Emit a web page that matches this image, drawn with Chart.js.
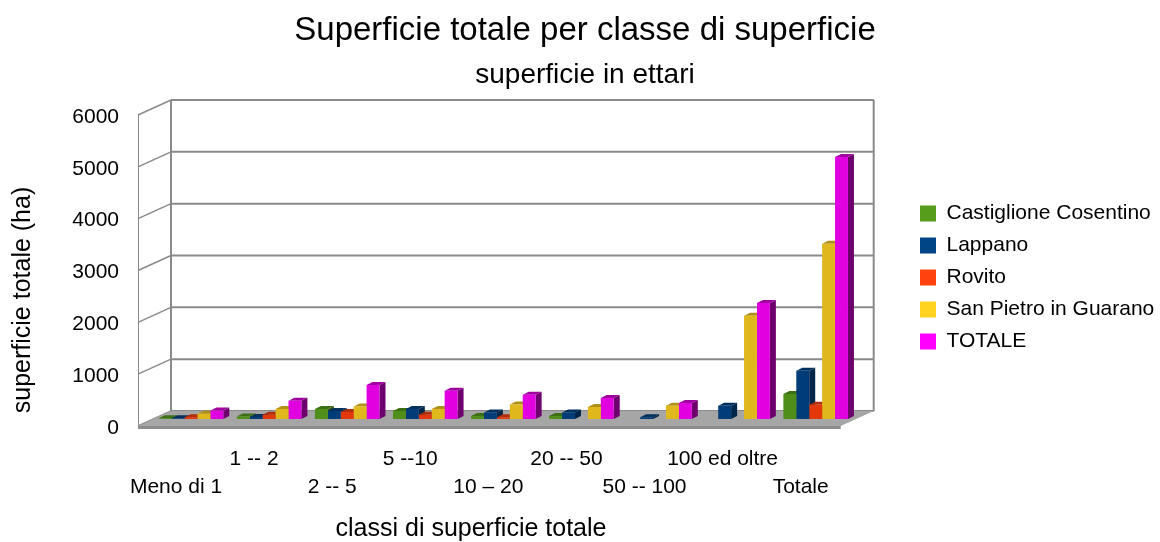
<!DOCTYPE html>
<html lang="it">
<head>
    <meta charset="UTF-8">
    <title>Superficie totale per classe di superficie</title>
    <script src="https://cdn.jsdelivr.net/npm/chart.js@4"></script>
    <style>
        html, body { margin: 0; padding: 0; background: #fff; }
        #wrap { width: 1160px; height: 542px; }
    </style>
</head>
<body>
    <div id="wrap"><canvas id="chart" width="1160" height="542"></canvas></div>
    <script>
        // etichette alternate su due righe
        const categories = [
            ['', 'Meno di 1'], ['1 -- 2', ''], ['', '2 -- 5'], ['5 --10', ''], ['', '10 – 20'],
            ['20 -- 50', ''], ['', '50 -- 100'], ['100 ed oltre', ''], ['', 'Totale']
        ];
        const castiglione = [15, 50, 193, 155, 60, 60, null, null, 483];
        const lappano = [15, 40, 155, 193, 127, 125, 35, 257, 932];
        const rovito = [35, 80, 135, 80, 35, null, null, null, 276];
        const sanPietro = [100, 193, 243, 193, 282, 232, 257, 1990, 3380];
        const totale = [165, 353, 656, 546, 469, 405, 309, 2240, 5054];
        const seriesNames = ['Castiglione Cosentino', 'Lappano', 'Rovito', 'San Pietro in Guarano', 'TOTALE'];
        const legendColors = ['#579d1c', '#004586', '#ff420e', '#ffd320', '#ff00ff'];
        const frontColors = ['#4f8f19', '#003d78', '#e2380b', '#e0b81e', '#e000e0'];
        const sideColors = ['#2f5610', '#002649', '#8a2808', '#877012', '#6e006e'];
        const topColors = ['#3d7014', '#00305e', '#b02e09', '#b09018', '#a000a0'];

        // offset del piano delle barre rispetto a parete di fondo e bordo anteriore
        const BACK = { x: 19, y: -8 };
        const FRONT = { x: -14, y: 7 };
        const BAR_DEPTH = { x: 6, y: -3 };

        const walls3d = {
            id: 'walls3d',
            afterLayout(chart) {
                const legend = chart.legend;
                legend.left = 909;
                legend.right = 1160;
                legend.top = 192;
                // titolo e sottotitolo sono centrati sulla pagina, non sullo spazio lasciato dalla legenda
                chart.boxes.filter(b => b.position === 'top').forEach(b => {
                    b.left += 25;
                    b.right += 25;
                });
            },
            beforeDatasetsDraw(chart) {
                const ctx = chart.ctx;
                const area = chart.chartArea;
                const yScale = chart.scales.y;
                const yZero = yScale.getPixelForValue(0);
                const yMax = yScale.getPixelForValue(6000);
                ctx.save();

                // griglia su parete di fondo e lato sinistro
                ctx.strokeStyle = '#8a8a8a';
                yScale.ticks.forEach(t => {
                    const y = yScale.getPixelForValue(t.value);
                    ctx.lineWidth = 2;
                    ctx.beginPath();
                    ctx.moveTo(area.left + BACK.x, y + BACK.y);
                    ctx.lineTo(area.right + BACK.x, y + BACK.y);
                    ctx.stroke();
                    ctx.lineWidth = 1.5;
                    ctx.beginPath();
                    ctx.moveTo(area.left + BACK.x, y + BACK.y);
                    ctx.lineTo(area.left + FRONT.x, y + FRONT.y);
                    ctx.stroke();
                });
                ctx.lineWidth = 2;
                [area.left + BACK.x, area.right + BACK.x].forEach(x => {
                    ctx.beginPath();
                    ctx.moveTo(x, yMax + BACK.y);
                    ctx.lineTo(x, yZero + BACK.y);
                    ctx.stroke();
                });
                ctx.lineWidth = 1;
                ctx.beginPath();
                ctx.moveTo(area.left + FRONT.x + 0.5, yMax + FRONT.y);
                ctx.lineTo(area.left + FRONT.x + 0.5, yZero + FRONT.y);
                ctx.stroke();

                // pavimento
                ctx.fillStyle = '#a6a6a6';
                ctx.beginPath();
                ctx.moveTo(area.left + BACK.x, yZero + BACK.y);
                ctx.lineTo(area.right + BACK.x, yZero + BACK.y);
                ctx.lineTo(area.right + FRONT.x, yZero + FRONT.y);
                ctx.lineTo(area.left + FRONT.x, yZero + FRONT.y);
                ctx.closePath();
                ctx.fill();
                ctx.fillStyle = '#8c8c8c';
                ctx.fillRect(area.left + FRONT.x, yZero + FRONT.y, area.right - area.left, 3);

                // fianchi e coperchi delle barre
                chart.data.datasets.forEach((ds, i) => {
                    chart.getDatasetMeta(i).data.forEach((bar, j) => {
                        if (ds.data[j] === null) return;
                        const left = bar.x - bar.width / 2;
                        const right = bar.x + bar.width / 2;
                        ctx.fillStyle = sideColors[i];
                        ctx.beginPath();
                        ctx.moveTo(right, bar.y);
                        ctx.lineTo(right + BAR_DEPTH.x, bar.y + BAR_DEPTH.y);
                        ctx.lineTo(right + BAR_DEPTH.x, bar.base + BAR_DEPTH.y);
                        ctx.lineTo(right, bar.base);
                        ctx.closePath();
                        ctx.fill();
                        ctx.fillStyle = topColors[i];
                        ctx.beginPath();
                        ctx.moveTo(left, bar.y);
                        ctx.lineTo(left + BAR_DEPTH.x, bar.y + BAR_DEPTH.y);
                        ctx.lineTo(right + BAR_DEPTH.x, bar.y + BAR_DEPTH.y);
                        ctx.lineTo(right, bar.y);
                        ctx.closePath();
                        ctx.fill();
                    });
                });
                ctx.restore();
            },
            afterDraw(chart) {
                // titoli degli assi
                const ctx = chart.ctx;
                ctx.save();
                ctx.fillStyle = '#000';
                ctx.font = '25px "Liberation Sans"';
                ctx.textAlign = 'center';
                ctx.textBaseline = 'middle';
                ctx.fillText('classi di superficie totale', 471, 529);
                ctx.translate(23, 300);
                ctx.rotate(-Math.PI / 2);
                ctx.fillText('superficie totale (ha)', 0, 0);
                ctx.restore();
            }
        };

        const seriesValues = [castiglione, lappano, rovito, sanPietro, totale];
        new Chart(document.getElementById('chart'), {
            type: 'bar',
            data: {
                labels: categories,
                datasets: seriesNames.map((name, i) => ({
                    label: name,
                    data: seriesValues[i],
                    backgroundColor: frontColors[i]
                }))
            },
            plugins: [walls3d],
            options: {
                responsive: false,
                animation: false,
                barPercentage: 1,
                categoryPercentage: 0.827,
                layout: { padding: { left: 10, right: 50 } },
                plugins: {
                    tooltip: { enabled: false },
                    title: {
                        display: true,
                        text: 'Superficie totale per classe di superficie',
                        color: '#000',
                        font: { family: 'Liberation Sans', size: 33, weight: 'normal' },
                        padding: { top: 11, bottom: 0 }
                    },
                    subtitle: {
                        display: true,
                        text: 'superficie in ettari',
                        color: '#000',
                        font: { family: 'Liberation Sans', size: 28, weight: 'normal' },
                        padding: { top: 7.6, bottom: 16.2 }
                    },
                    legend: {
                        position: 'right',
                        align: 'start',
                        labels: {
                            boxWidth: 16,
                            boxHeight: 16,
                            padding: 11,
                            color: '#000',
                            font: { family: 'Liberation Sans', size: 21 },
                            generateLabels: () => seriesNames.map((name, i) => ({
                                text: name,
                                fillStyle: legendColors[i],
                                strokeStyle: legendColors[i],
                                lineWidth: 0,
                                datasetIndex: i
                            }))
                        }
                    }
                },
                scales: {
                    x: {
                        grid: { display: false },
                        border: { display: false },
                        afterFit(scale) { scale.height = 123; },
                        ticks: {
                            autoSkip: false,
                            maxRotation: 0,
                            minRotation: 0,
                            labelOffset: -15,
                            padding: 18,
                            color: '#000',
                            font: { family: 'Liberation Sans', size: 21, lineHeight: 1.333 }
                        }
                    },
                    y: {
                        min: 0,
                        max: 6000,
                        grid: { display: false },
                        border: { display: false },
                        afterFit(scale) { scale.width = 142; },
                        ticks: {
                            stepSize: 1000,
                            labelOffset: 9,
                            padding: 25,
                            color: '#000',
                            font: { family: 'Liberation Sans', size: 21 },
                            callback: value => String(value)
                        }
                    }
                }
            }
        });
    </script>
</body>
</html>
